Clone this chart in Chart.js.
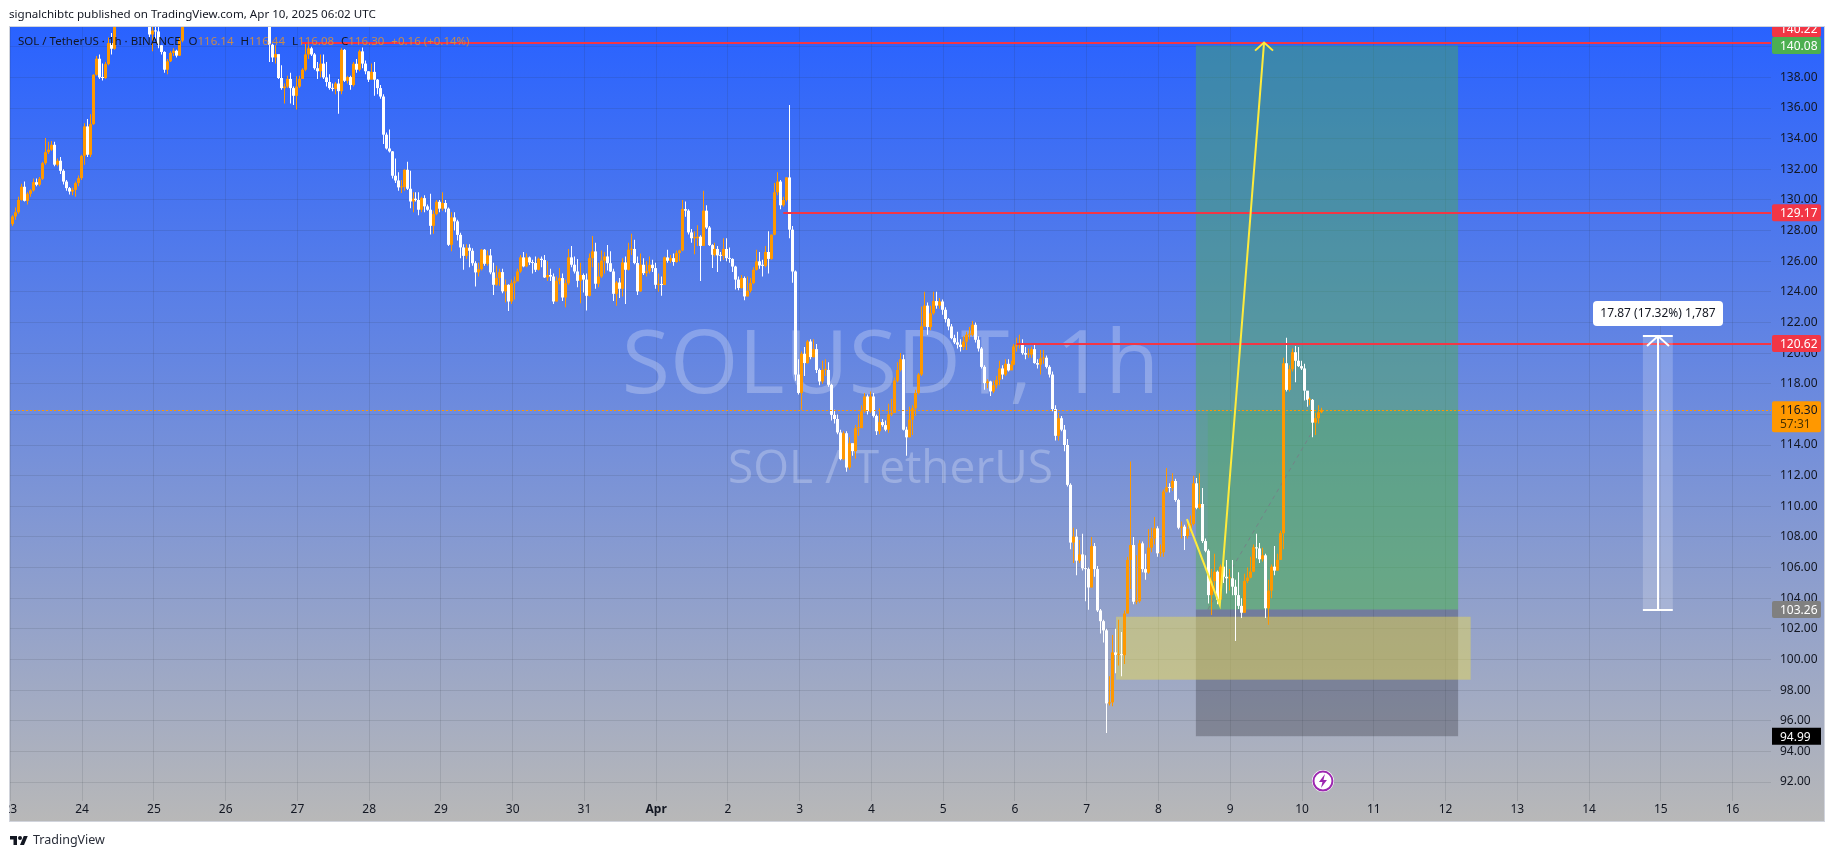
<!DOCTYPE html>
<html>
<head>
<meta charset="utf-8">
<script src="https://cdn.jsdelivr.net/npm/chart.js@4"></script>
<style>
html, body { margin: 0; background: #fff; overflow: hidden; font-family: "Noto Sans", sans-serif; }
#panel { position: absolute; left: 9px; top: 26px; width: 1814px; height: 794px; border: 1px solid #d1d4dc; background: linear-gradient(180deg, #2962ff 0%, #b8b8b8 100%); }
#chart { position: absolute; left: 0; top: 0; z-index: 1; }
#mask { position: absolute; left: 0; top: 795px; width: 9px; height: 30px; background: #fff; z-index: 2; }
#header { position: absolute; left: 9px; top: 6px; font-size: 11.6px; line-height: 16px; color: #131722; z-index: 2; }
#legend { position: absolute; left: 18px; top: 33px; font-size: 11.5px; line-height: 16px; color: #131722; white-space: nowrap; z-index: 2; }
#legend b { font-weight: normal; color: #c98b4a; margin-right: 7px; }
#legend span { margin-right: 8px; }
#footer { position: absolute; left: 10px; top: 831px; font-size: 12.5px; line-height: 17px; color: #2a2e39; z-index: 2; }
#footer svg { vertical-align: -2px; margin-right: 5px; }
</style>
</head>
<body>
<div id="panel"></div>
<canvas id="chart" width="1835" height="857"></canvas>
<div id="mask"></div>
<div id="header">signalchibtc published on TradingView.com, Apr 10, 2025 06:02 UTC</div>
<div id="legend"><span>SOL / TetherUS · 1h · BINANCE</span>O<b>116.14</b>H<b>116.44</b>L<b>116.08</b>C<b>116.30</b><b>+0.16 (+0.14%)</b></div>
<div id="footer"><svg width="18" height="11" viewBox="0 2 36 22"><path fill="#131722" d="M14 22H7V11H0V4h14v18zM28 22h-8l7.5-18h8L28 22z"/><circle fill="#131722" cx="20" cy="8" r="4"/></svg>TradingView</div>
<script>
// Hourly SOL/USDT candles. Index 0 is the first hour on the left.
const opens = [
128.42,128.92,129.2,130,130.86,129.94,130.4,130.62,131.16,130.99,
131.38,132.4,133.12,133.28,133.6,132.3,132.56,131.9,131.2,130.77,
130.55,130.66,131.1,131.42,132.88,134.8,132.95,134.95,138.17,139.22,
138,137.96,138.87,140.24,139.87,142,142.3,143.1,143.8,144.5,
143.9,144.4,145.2,144.6,143.7,143.2,142.4,140.8,141.05,141,
140.1,139.66,138.5,139.05,139.6,139.74,139.42,140.4,141.5,142.3,
143,143.6,144.2,143.8,144.5,145.1,144.7,145.3,146,145.4,
144.8,145.2,144.6,144.1,144.7,145,144.3,143.8,144.2,143.7,
143.1,143.5,143,142.6,142.9,142.4,142.7,140.13,139.3,139.52,
137.96,137.3,137.4,137.9,137.3,136.8,137.4,137.9,138.5,139.5,
139.9,139.5,138.6,138.4,138.9,138,137.7,137.3,137.25,137.6,
137.1,139.8,137.78,138.02,137.5,138.89,138.5,139.7,138.9,138.4,
137.85,138.36,137.85,137.3,136.75,134.26,133.36,133.17,131.58,131.27,
130.82,130.85,131.97,130.73,129.9,130.08,130,129.36,130.12,129.58,
129.36,128.31,129.08,129.88,129.43,129.8,129.43,127.07,128.86,128.6,
127.72,126.9,126.35,126.88,126.68,125.87,125.27,125.48,126.75,125.83,
126.38,125.27,124.46,124.9,125.29,124.03,124.46,123.37,124.57,124.68,
125.33,126.25,125.66,126.25,125.92,125.88,125.44,126.16,126.08,124.94,
125.1,125,123.37,124.72,124.9,123.63,124.57,126.25,125.77,125.33,
124.72,125.1,124.8,123.74,126.2,126.64,124.53,125,126.03,126.31,
125.87,125.33,123.87,124.61,124.2,125.92,125.44,126.75,126.8,125.88,
124.03,125.77,125.22,125.34,125.77,125.55,124.46,124.5,124.45,126.25,
126.03,126.2,125.95,126.53,126.7,129.4,129.3,127.88,127.5,127.5,
127.6,127,129.3,128.2,127.05,126.42,126.8,126.38,126.35,126.8,
126.2,126.15,125.65,124.8,124.25,124.9,123.7,124.07,124.57,125.44,
125.99,125.72,125.7,126.6,126.15,127.73,130.5,131.2,129.65,130,
131.47,128.06,125.33,118.6,117.4,119.96,119.35,120.76,119.74,120.26,
118.9,118.15,118.9,118.9,117.93,115.97,115.7,114.82,113.08,114.77,
112.53,114.12,113.6,115.1,115.1,116.2,117.17,116.2,117.17,115.9,
114.9,115.5,115.3,115,116,116.1,118.2,118.9,119.6,115,
114.5,115.65,116.4,117.4,118.6,121.75,123.1,121.7,122.6,123.4,
123.1,123.37,122.83,122.22,121.74,120.98,120.7,120.55,120.4,120.75,
121.2,121.2,121.85,120.87,120.3,119.1,118.04,118.15,117.5,117.9,
118.25,119,118.6,119.3,118.87,119.24,120.44,120.55,120.6,120,
119.9,119.9,120.26,119.35,119.25,119.65,119.7,119.1,118.6,116.35,
114.6,115.75,115,114,111.4,107.63,108.02,106.45,106.86,105.95,
105.9,104.7,107.4,105.9,103.2,102.5,101.9,97.13,97.2,100.46,
100.3,100.3,100.28,103,106.5,107.47,103.77,103.8,107.58,105.9,
105.67,107.3,107.9,108.56,106.93,107,110.96,111.24,111.2,111.65,
110.41,108.6,108.67,108.06,108.5,108.85,111.5,109.9,110.15,107.73,
107.1,104.2,105.12,105.73,103.9,106.06,105.4,105.3,105.3,104.75,
104.2,103.5,103.05,105.12,105.34,105.73,107.32,107.25,106.54,106.8,
103.34,104.5,106.06,105.8,106.5,108.24,119.34,117.6,118.95,120.06,
119.5,119.15,119,117.55,116.95,116.95,115.46,115.75,116.14
];
const highs = [
129,129.5,130.2,131.05,131.2,130.5,130.7,131.4,131.4,131.5,
132.5,134.04,133.8,133.85,133.8,132.7,132.8,132,131.3,130.85,
130.8,131.2,131.6,132.95,135,135.28,135.6,138.2,139.4,139.5,
138.9,139,140.6,140.9,142.6,142.9,143.6,144.3,145,144.8,
145,145.8,145.5,144.8,144,143.2,142.9,141.7,141.9,141.6,
140.1,139.7,139.2,139.7,139.9,139.8,140.6,141.9,142.6,143.4,
144,144.6,144.4,145,145.4,145.3,145.8,146.4,146.2,145.6,
145.6,145.4,144.8,145,145.5,145.1,144.4,144.5,144.4,143.8,
143.8,143.7,143.2,143.2,143.1,143.1,142.8,140.2,140.1,139.5,
138.8,137.6,138.1,138.3,137.4,138.07,138.1,138.6,140.25,140.1,
140,139.6,139,139.5,139.5,139,138.2,137.6,137.7,137.9,
139.9,139.85,138.1,138.1,139,139.2,139.8,139.95,139.1,138.4,
138.9,139,137.9,137.5,136.9,134.4,134.6,133.2,132.7,131.8,
131.3,132,132.5,131.9,130.5,130.5,130.5,130.2,130.3,129.7,
130.4,129.3,130,130,130.5,130,129.5,129.2,129.2,128.7,
127.85,127.1,127.1,127.1,126.85,126,125.9,126.8,126.8,126.7,
126.8,125.9,125.7,125.5,125.5,124.8,124.5,124.8,125,125.5,
126.4,126.6,126.5,126.3,126.1,126.3,126.25,126.3,126.4,126,
125.5,125.2,125,125.55,125.2,124.8,126.8,127,126.3,126.15,
125.9,125.2,125.2,126.5,127.65,127.2,125.9,126.7,126.6,127.05,
126.65,125.5,124.7,124.9,126.2,126.3,127.2,127.8,127.4,126.3,
126.5,126.2,126,126.3,126.1,125.9,125.2,125,126.3,126.75,
126.4,126.5,126.7,126.75,130,129.9,129.4,128.1,127.95,128.35,
127.7,130.6,129.65,128.3,127.1,127.2,127,126.6,127.5,127.5,
126.9,126.2,125.7,125,125.1,125,125,124.9,125.6,126.75,
126.6,126.1,127,127.95,127.75,131.1,131.8,131.3,130.2,131.5,
136.2,128.3,125.4,119.6,120.1,120.4,120.85,120.9,120.9,120.6,
119,119.5,119.6,119.4,118,116.3,116,115,114.9,114.9,
114.5,114.1,115.3,116,116.6,117.4,117.3,117.5,117.4,116,
116.4,115.7,115.6,116.7,117,118.4,119.4,120,119.9,115.2,
116.5,116.6,117.6,118.7,123.05,124,123.3,123.1,124,124,
123.6,123.5,123,122.3,121.9,121.2,121.4,120.9,121.1,121.4,
121.7,122.1,122,121.1,120.4,119.2,118.3,118.2,118.2,118.5,
119.5,119.2,119.6,119.6,119.5,120.6,121,121.2,120.9,120.4,
120.3,120.4,120.6,119.6,120.2,120.2,119.85,119.2,118.8,116.6,
116.1,115.9,115.3,114.4,111.5,108.6,108.5,107.8,108.2,106.8,
106,108,107.6,106.1,103.3,102.6,102,98.9,101.6,102,
102.6,101.8,103.2,106.7,112.92,108,106.8,107.8,107.7,106.9,
108.5,108.6,109.3,108.7,107.5,111.1,112.5,111.5,112.15,111.8,
110.5,109,108.8,109.1,109.4,112,111.85,112.15,111.2,107.9,
107.2,105.9,106.9,105.8,106.2,106.5,106.5,105.9,106.5,105.2,
105.7,104,105.6,106,106.7,107.5,108.2,107.6,107.3,106.9,
105.2,106.2,107.4,106.9,108.4,119.7,121,119.2,120.3,120.47,
120.4,119.5,119.3,117.5,117.1,117,116.1,116.6,116.44
];
const lows = [
128.3,128.7,129.1,129.95,129.9,129.7,130.2,130.55,130.9,130.9,
131.3,132.3,133,133.2,132.2,132.2,131.7,131,130.6,130.35,
130.3,130.2,130.9,131.3,132.3,132.8,132.8,134.9,138.1,137.9,
137.8,137.9,138.8,139.5,139.8,141.9,142.2,143,143.6,143.5,
143.7,144.2,144.2,143.4,142.9,142.1,140.6,139.7,140.5,139.9,
139.5,138.3,138.2,139,139.4,139.3,139.4,140.3,141.4,142.1,
142.8,143.4,143.5,143.7,144.3,144.4,144.5,145.1,145.1,144.5,
144.6,144.3,143.8,144,144.5,144.1,143.5,143.6,143.4,142.9,
142.9,142.8,142.3,142.4,142.1,142.2,139,139,138.9,137.9,
137.2,136.3,137.3,136.3,136.2,135.9,137.3,138,138.4,139.2,
139.4,138.5,137.9,138,137.9,137.4,137.2,137.1,136.9,135.63,
136.9,137.7,137.6,137.2,137.4,138.3,138.4,138.6,138.2,137.7,
137.9,136.8,136.9,136.6,133.65,133.3,133.1,131.4,131.1,130.6,
130.45,130.6,130.65,129.45,129.2,129.9,129,129.2,129.2,129.3,
127.75,127.8,129,129.2,129.3,129.2,127,126.65,128,127.35,
126.2,125.45,126.15,125.6,125.7,124.35,125,125.4,125.7,125.7,
125.15,123.8,124.4,124.4,123.9,123.3,122.75,123.2,123.5,124.7,
125.25,125.6,125.6,125.75,125.2,125.3,125.4,125.6,124.9,124.7,
124.7,123.2,123.37,124.5,123.4,123,124.46,125.6,125.2,124.3,
123.25,123.95,122.78,123.7,125.6,124.2,124.3,124.9,125.2,125.4,
125.3,123.4,123.1,123.6,123.7,123.2,125.4,126.4,125.8,123.8,
124,125.1,125,125.2,125.3,124.2,124,123.75,124.45,125.9,
125.9,125.7,125.9,126,126.65,128.9,127.75,127.2,126.45,127,
124.7,127,128.1,127,125.55,126.3,125.3,126,126.1,126,
125.9,125.3,124.15,124.1,124.2,123.45,123.7,123.95,124.5,125.4,
125.5,125,125.6,125.2,126.1,127.7,130.3,129.4,129.55,129.9,
127.5,124.6,118.2,117.3,116.3,118.5,119.3,119.6,119.7,118.7,
117.9,118,118.5,117.8,115.6,115.4,114.7,113,113,112.25,
112.4,113.3,113.1,114.6,115.4,116.1,116,116.1,115.8,114.66,
114.7,115.2,114.9,114.8,115.9,116.1,118.1,118.8,114.95,113.3,
114.5,114.66,115.9,117.3,118.5,121.7,121.2,121.5,122.5,122.9,
122.9,122.5,122,121.5,120.9,120.6,120.3,120.1,120.2,120.2,
120.9,121.1,120.7,120.1,119,117.6,117.7,117.2,117.4,117.7,
117.9,118.3,118.5,118.8,118.9,119.2,120.1,120.3,119.9,119.6,
119.7,119.7,119.3,119,118.6,119.3,119,118.4,116.2,114.3,
114.3,114.9,113.6,111.3,107.2,106.3,105.5,106.3,105.8,103.8,
103.25,104.7,105.4,103.1,101.7,101.1,95.2,97,96.95,99.1,
99.6,98.9,99.7,103,104.6,103.6,103.6,103.7,105.7,105.2,
105.6,107,107.5,106.7,106.7,106.7,110.9,110.9,111,110.3,
108.5,107.9,107.15,107.9,108.3,108.75,109.8,109.8,107.6,107,
103.65,102.9,104.5,103.6,103.8,105,104.3,104.5,104.2,101.2,
103.3,102.7,103.05,105,105.3,105.7,106.6,106.3,106.4,102.7,
102.27,104,105.5,105.8,106.5,107.2,117.5,117.5,118.8,118.1,
119.1,118.9,116.9,116.5,116.6,114.5,114.65,115.4,116.08
];
const closes = [
128.92,129.2,130,130.86,129.94,130.4,130.62,131.16,130.99,131.38,
132.4,133.12,133.28,133.6,132.3,132.56,131.9,131.2,130.77,130.55,
130.66,131.1,131.42,132.88,134.8,132.95,134.95,138.17,139.22,138,
137.96,138.87,140.24,139.87,142,142.3,143.1,143.8,144.5,143.9,
144.4,145.2,144.6,143.7,143.2,142.4,140.8,141.05,141,140.1,
139.66,138.5,139.05,139.6,139.74,139.42,140.4,141.5,142.3,143,
143.6,144.2,143.8,144.5,145.1,144.7,145.3,146,145.4,144.8,
145.2,144.6,144.1,144.7,145,144.3,143.8,144.2,143.7,143.1,
143.5,143,142.6,142.9,142.4,142.7,140.13,139.3,139.52,137.96,
137.3,137.4,137.9,137.3,136.8,137.4,137.9,138.5,139.5,139.9,
139.5,138.6,138.4,138.9,138,137.7,137.3,137.25,137.6,137.1,
139.8,137.78,138.02,137.5,138.89,138.5,139.7,138.9,138.4,137.85,
138.36,137.85,137.3,136.75,134.26,133.36,133.17,131.58,131.27,130.82,
130.85,131.97,130.73,129.9,130.08,130,129.36,130.12,129.58,129.36,
128.31,129.08,129.88,129.43,129.8,129.43,127.07,128.86,128.6,127.72,
126.9,126.35,126.88,126.68,125.87,125.27,125.48,126.75,125.83,126.38,
125.27,124.46,124.9,125.29,124.03,124.46,123.37,124.57,124.68,125.33,
126.25,125.66,126.25,125.92,125.88,125.44,126.16,126.08,124.94,125.1,
125,123.37,124.72,124.9,123.63,124.57,126.25,125.77,125.33,124.72,
125.1,124.8,123.74,126.2,126.64,124.53,125,126.03,126.31,125.87,
125.33,123.87,124.61,124.2,125.92,125.44,126.75,126.8,125.88,124.03,
125.77,125.22,125.34,125.77,125.55,124.46,124.5,124.45,126.25,126.03,
126.2,125.95,126.53,126.7,129.4,129.3,127.88,127.5,127.5,127.6,
127,129.3,128.2,127.05,126.42,126.8,126.38,126.35,126.8,126.2,
126.15,125.65,124.8,124.25,124.9,123.7,124.07,124.57,125.44,125.99,
125.72,125.7,126.6,126.15,127.73,130.5,131.2,129.65,130,131.47,
128.06,125.33,118.6,117.4,119.96,119.35,120.76,119.74,120.26,118.9,
118.15,118.9,118.9,117.93,115.97,115.7,114.82,113.08,114.77,112.53,
114.12,113.6,115.1,115.1,116.2,117.17,116.2,117.17,115.9,114.9,
115.5,115.3,115,116,116.1,118.2,118.9,119.6,115,114.5,
115.65,116.4,117.4,118.6,121.75,123.1,121.7,122.6,123.4,123.1,
123.37,122.83,122.22,121.74,120.98,120.7,120.55,120.4,120.75,121.2,
121.2,121.85,120.87,120.3,119.1,118.04,118.15,117.5,117.9,118.25,
119,118.6,119.3,118.87,119.24,120.44,120.55,120.6,120,119.9,
119.9,120.26,119.35,119.25,119.65,119.7,119.1,118.6,116.35,114.6,
115.75,115,114,111.4,107.63,108.02,106.45,106.86,105.95,105.9,
104.7,107.4,105.9,103.2,102.5,101.9,97.13,97.2,100.46,100.3,
100.3,100.28,103,106.5,107.47,103.77,103.8,107.58,105.9,105.67,
107.3,107.9,108.56,106.93,107,110.96,111.24,111.2,111.65,110.41,
108.6,108.67,108.06,108.5,108.85,111.5,109.9,110.15,107.73,107.1,
104.2,105.12,105.73,103.9,106.06,105.4,105.3,105.3,104.75,104.2,
103.5,103.05,105.12,105.34,105.73,107.32,107.25,106.54,106.8,103.34,
104.5,106.06,105.8,106.5,108.24,119.34,117.6,118.95,120.06,119.5,
119.15,119,117.55,116.95,116.95,115.46,115.75,116.14,116.3
];

const dayLabels = ["23","24","25","26","27","28","29","30","31","Apr","2","3","4","5","6","7","8","9","10","11","12","13","14","15","16"];
const dayTicks = [-0.5,23.5,47.5,71.5,95.5,119.5,143.5,167.5,191.5,215.5,239.5,263.5,287.5,311.5,335.5,359.5,383.5,407.5,431.5,455.5,479.5,503.5,527.5,551.5,575.5];
const priceTicks = [92,94,96,98,100,102,104,106,108,110,112,114,116,118,120,122,124,126,128,130,132,134,136,138,140];

// Price levels and drawings, in hour index / price units
const resistance = [[97, 140.22], [258, 129.17], [336, 120.62]];
const lastPrice = 116.3;
const longBox = { from: 396, to: 483.7, fillFrom: 400, target: 140.08, entry: 103.26, stop: 94.99 };
const demandZone = { from: 369.3, to: 487.9, top: 102.79, bottom: 98.68 };
const yellowPath = [[393, 109.16], [404, 103.56], [418.8, 140.27]];
const dashedPath = [[400, 103.26], [435, 114.9]];
const rangeBox = { from: 545.5, to: 555.5, top: 121.13, bottom: 103.26 };
const flashPoint = [438.5, 92.06];

const UP = "#ff9800", DOWN = "#ffffff";
const FONT = '"Noto Sans", sans-serif';
const candleColors = closes.map((c, i) => c >= opens[i] ? UP : DOWN);

function polyline(ctx, x, y, pts) {
    ctx.beginPath();
    pts.forEach((p, i) => {
        if (i === 0) ctx.moveTo(x.getPixelForValue(p[0]), y.getPixelForValue(p[1]));
        else ctx.lineTo(x.getPixelForValue(p[0]), y.getPixelForValue(p[1]));
    });
    ctx.stroke();
}

function box(ctx, x, y, x0, x1, top, bottom, color) {
    ctx.fillStyle = color;
    const l = x.getPixelForValue(x0), t = y.getPixelForValue(top);
    ctx.fillRect(l, t, x.getPixelForValue(x1) - l, y.getPixelForValue(bottom) - t);
}

// Draws everything the TradingView drawing tools put on the chart
const drawings = {
    id: "drawings",
    afterDatasetsUpdate(chart) {
        // Snap candles to whole pixels so thin wicks stay crisp
        chart.data.datasets.forEach((ds, k) => {
            chart.getDatasetMeta(k).data.forEach(el => { el.x = Math.round(el.x) + 0.5; });
        });
    },
    beforeDatasetsDraw(chart) {
        const { ctx, chartArea: a, scales: { x, y } } = chart;
        ctx.save();
        ctx.beginPath();
        ctx.rect(a.left, a.top, a.right - a.left, a.bottom - a.top);
        ctx.clip();

        // Watermark
        ctx.textAlign = "center";
        ctx.textBaseline = "middle";
        ctx.fillStyle = "rgba(255,255,255,0.25)";
        ctx.font = '88px "Open Sans", sans-serif';
        ctx.fillText("SOLUSDT, 1h", (a.left + a.right) / 2, 368);
        ctx.font = '46px "Open Sans", sans-serif';
        ctx.fillText("SOL / TetherUS", (a.left + a.right) / 2, 470);

        // Long position tool
        box(ctx, x, y, longBox.from, longBox.to, longBox.target, longBox.entry, "rgba(76,175,80,0.45)");
        box(ctx, x, y, longBox.fillFrom, longBox.to, lastPrice, longBox.entry, "rgba(76,175,80,0.22)");
        box(ctx, x, y, longBox.from, longBox.to, longBox.entry, longBox.stop, "rgba(40,40,50,0.3)");
        ctx.strokeStyle = "rgba(120,123,134,0.8)";
        ctx.lineWidth = 1;
        ctx.setLineDash([4, 4]);
        polyline(ctx, x, y, dashedPath);
        ctx.setLineDash([]);

        // Demand zone
        box(ctx, x, y, demandZone.from, demandZone.to, demandZone.top, demandZone.bottom, "rgba(230,215,90,0.5)");
        ctx.restore();
    },
    afterDatasetsDraw(chart) {
        const { ctx, chartArea: a, scales: { x, y } } = chart;
        ctx.save();
        ctx.beginPath();
        ctx.rect(a.left, a.top, a.right - a.left, a.bottom - a.top);
        ctx.clip();

        // Last price dotted line
        ctx.strokeStyle = UP;
        ctx.lineWidth = 1;
        ctx.setLineDash([2, 2]);
        ctx.beginPath();
        ctx.moveTo(a.left, Math.round(y.getPixelForValue(lastPrice)) + 0.5);
        ctx.lineTo(a.right, Math.round(y.getPixelForValue(lastPrice)) + 0.5);
        ctx.stroke();
        ctx.setLineDash([]);

        // Resistance lines
        ctx.strokeStyle = "#f23645";
        ctx.lineWidth = 2;
        resistance.forEach(r => {
            const py = Math.round(y.getPixelForValue(r[1]));
            ctx.beginPath();
            ctx.moveTo(x.getPixelForValue(r[0]), py);
            ctx.lineTo(a.right, py);
            ctx.stroke();
        });

        // Yellow projection with arrow head
        ctx.strokeStyle = "#ffeb3b";
        ctx.lineWidth = 2;
        polyline(ctx, x, y, yellowPath);
        const tip = yellowPath[2];
        const tx = x.getPixelForValue(tip[0]), ty = y.getPixelForValue(tip[1]);
        ctx.beginPath();
        ctx.moveTo(tx - 9, ty + 8);
        ctx.lineTo(tx, ty);
        ctx.lineTo(tx + 9, ty + 8);
        ctx.stroke();

        // Price range tool
        box(ctx, x, y, rangeBox.from, rangeBox.to, rangeBox.top, rangeBox.bottom, "rgba(255,255,255,0.2)");
        const rl = x.getPixelForValue(rangeBox.from), rr = x.getPixelForValue(rangeBox.to);
        const rm = Math.round(x.getPixelForValue((rangeBox.from + rangeBox.to) / 2));
        const rt = Math.round(y.getPixelForValue(rangeBox.top)), rb = Math.round(y.getPixelForValue(rangeBox.bottom));
        ctx.strokeStyle = "#fff";
        ctx.lineWidth = 2;
        ctx.beginPath();
        ctx.moveTo(rl, rt); ctx.lineTo(rr, rt);
        ctx.moveTo(rl, rb); ctx.lineTo(rr, rb);
        ctx.moveTo(rm, rt); ctx.lineTo(rm, rb);
        ctx.moveTo(rm - 11, rt + 10); ctx.lineTo(rm, rt); ctx.lineTo(rm + 11, rt + 10);
        ctx.stroke();

        // Range label
        ctx.fillStyle = "#fff";
        ctx.beginPath();
        ctx.roundRect(rm - 65, rt - 35, 130, 25, 4);
        ctx.fill();
        ctx.fillStyle = "#131722";
        ctx.font = "12px " + FONT;
        ctx.textAlign = "center";
        ctx.textBaseline = "middle";
        ctx.fillText("17.87 (17.32%) 1,787", rm, rt - 22);

        // Flash icon
        const fx = x.getPixelForValue(flashPoint[0]), fy = y.getPixelForValue(flashPoint[1]);
        ctx.fillStyle = "#fff";
        ctx.beginPath();
        ctx.arc(fx, fy, 11, 0, Math.PI * 2);
        ctx.fill();
        ctx.strokeStyle = "#9c27b0";
        ctx.lineWidth = 2;
        ctx.beginPath();
        ctx.arc(fx, fy, 9.5, 0, Math.PI * 2);
        ctx.stroke();
        ctx.fillStyle = "#9c27b0";
        ctx.beginPath();
        ctx.moveTo(fx + 2, fy - 7);
        ctx.lineTo(fx - 4, fy + 1);
        ctx.lineTo(fx - 0.5, fy + 1);
        ctx.lineTo(fx - 2, fy + 7);
        ctx.lineTo(fx + 4, fy - 1);
        ctx.lineTo(fx + 0.5, fy - 1);
        ctx.closePath();
        ctx.fill();
        ctx.restore();
    },
    afterDraw(chart) {
        const { ctx, chartArea: a, scales: { y } } = chart;
        ctx.save();
        ctx.beginPath();
        ctx.rect(a.right, a.top, 60, a.bottom - a.top);
        ctx.clip();
        ctx.font = "12px " + FONT;
        ctx.textBaseline = "middle";
        const axisLabel = (py, text, bg, color, radius) => {
            ctx.fillStyle = bg;
            ctx.beginPath();
            ctx.roundRect(a.right + 1, py - 8.5, 49, 17, radius);
            ctx.fill();
            ctx.fillStyle = color;
            ctx.fillText(text, a.right + 9, py + 1);
        };
        axisLabel(y.getPixelForValue(140.08) - 17, "140.22", "#f23645", "#fff", 2);
        axisLabel(y.getPixelForValue(140.08), "140.08", "#4caf50", "#fff", 2);
        axisLabel(y.getPixelForValue(129.17), "129.17", "#f23645", "#fff", 2);
        axisLabel(y.getPixelForValue(120.62), "120.62", "#f23645", "#fff", 2);
        axisLabel(y.getPixelForValue(103.26), "103.26", "#808080", "#fff", 2);
        axisLabel(y.getPixelForValue(94.99), "94.99", "#000", "#fff", 0);

        // Last price with countdown
        const ly = y.getPixelForValue(lastPrice);
        ctx.fillStyle = UP;
        ctx.beginPath();
        ctx.roundRect(a.right + 1, ly - 8.5, 49, 31, 2);
        ctx.fill();
        ctx.fillStyle = "#131722";
        ctx.fillText("116.30", a.right + 9, ly + 1);
        ctx.fillStyle = "#4a3300";
        ctx.fillText("57:31", a.right + 9, ly + 15);
        ctx.restore();
    }
};

new Chart(document.getElementById("chart"), {
    type: "bar",
    data: {
        datasets: [
            {
                data: closes.map((c, i) => ({ x: i, y: [opens[i], c] })),
                backgroundColor: candleColors,
                barThickness: 3,
                minBarLength: 1,
                inflateAmount: 0,
                grouped: false
            },
            {
                data: closes.map((c, i) => ({ x: i, y: [lows[i], highs[i]] })),
                backgroundColor: candleColors,
                barThickness: 1,
                inflateAmount: 0,
                grouped: false
            }
        ]
    },
    plugins: [drawings],
    options: {
        responsive: false,
        animation: false,
        layout: { padding: { left: 10, top: 27, right: 11, bottom: 36 } },
        plugins: { legend: { display: false }, tooltip: { enabled: false } },
        scales: {
            x: {
                type: "linear",
                offset: false,
                min: -0.62,
                max: 588.35,
                afterBuildTicks: axis => { axis.ticks = dayTicks.map(value => ({ value })); },
                afterFit: axis => { axis.height = 20; },
                border: { display: false },
                grid: { offset: false, color: "rgba(42,46,57,0.12)", drawTicks: false },
                ticks: {
                    autoSkip: false,
                    maxRotation: 0,
                    padding: 1,
                    color: "#131722",
                    font: c => ({ family: FONT, size: 12, weight: dayLabels[c.index] === "Apr" ? "bold" : "normal" }),
                    callback: (value, index) => dayLabels[index]
                }
            },
            y: {
                position: "right",
                min: 90.76,
                max: 141.29,
                afterBuildTicks: axis => { axis.ticks = priceTicks.map(value => ({ value })); },
                afterFit: axis => { axis.width = 53; },
                border: { display: false },
                grid: { color: "rgba(42,46,57,0.12)", drawTicks: false },
                ticks: {
                    padding: 9,
                    color: "#131722",
                    font: { family: FONT, size: 12 },
                    callback: value => value.toFixed(2)
                }
            }
        }
    }
});
</script>
</body>
</html>
